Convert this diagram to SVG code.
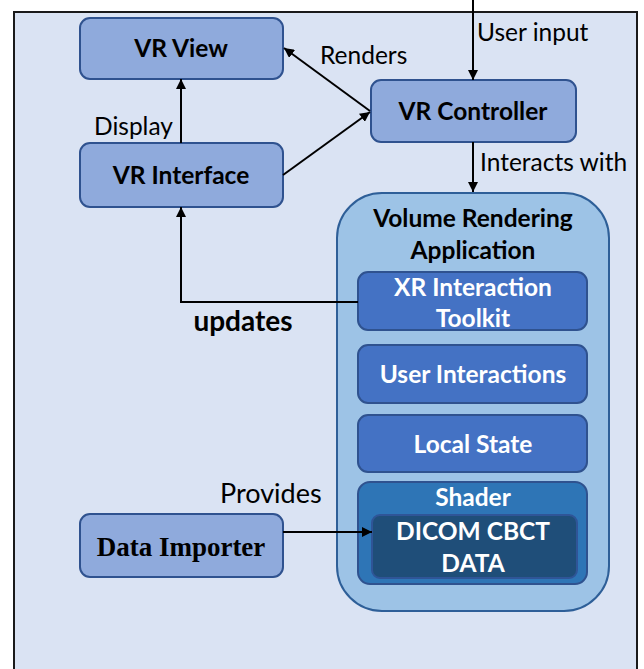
<svg xmlns="http://www.w3.org/2000/svg" width="644" height="669" viewBox="0 0 644 669">
<defs>
<marker id="arr" viewBox="0 0 10 10" refX="10" refY="5" markerWidth="10" markerHeight="10" markerUnits="userSpaceOnUse" orient="auto">
<path d="M0,0 L10,5 L0,10 z" fill="#000"/>
</marker>
<style>
.bg{fill:#dae3f3;stroke:#1a1a1a;stroke-width:2}
.box{fill:#8faadc;stroke:#2f528f;stroke-width:2}
.cont{fill:#9dc3e6;stroke:#2e5f98;stroke-width:2}
.inner{fill:#4472c4;stroke:#2f528f;stroke-width:2}
.shader{fill:#2e75b6;stroke:#2f528f;stroke-width:2}
.dicom{fill:#1f4e79;stroke:#2f5597;stroke-width:2}
.t{font-family:Lato,"Open Sans",sans-serif;font-weight:bold;font-size:24.5px;fill:#000;text-anchor:middle}
.w{font-family:Lato,"Open Sans",sans-serif;font-weight:bold;font-size:24.5px;fill:#fff;text-anchor:middle}
.l{font-family:Lato,"Open Sans",sans-serif;font-size:24.5px;fill:#000}
.serif{font-family:"Liberation Serif",serif;font-weight:bold;font-size:27px;fill:#000;text-anchor:middle}
.c{fill:none;stroke:#000;stroke-width:2}
</style>
</defs>
<rect class="bg" x="14" y="12" width="623" height="680"/>
<g id="vr-view">
<rect class="box" x="80" y="18" width="203" height="61" rx="10"/>
<text class="t" x="181" y="57">VR View</text>
</g>
<g id="vr-controller">
<rect class="box" x="371" y="80" width="205" height="62" rx="10"/>
<text class="t" x="473" y="120">VR Controller</text>
</g>
<g id="vr-interface">
<rect class="box" x="80" y="143" width="203" height="64" rx="10"/>
<text class="t" x="181" y="184">VR Interface</text>
</g>
<g id="volume-rendering-application">
<rect class="cont" x="337" y="193" width="272" height="418" rx="45"/>
<text class="t" x="473" y="227">Volume Rendering</text>
<text class="t" x="473" y="259">Application</text>
</g>
<g id="xr-interaction-toolkit">
<rect class="inner" x="358" y="272" width="229" height="58" rx="10"/>
<text class="w" x="473" y="296">XR Interaction</text>
<text class="w" x="473" y="327">Toolkit</text>
</g>
<g id="user-interactions">
<rect class="inner" x="358" y="345" width="229" height="58" rx="10"/>
<text class="w" x="473" y="383">User Interactions</text>
</g>
<g id="local-state">
<rect class="inner" x="358" y="415" width="229" height="57" rx="10"/>
<text class="w" x="473" y="453">Local State</text>
</g>
<g id="shader">
<rect class="shader" x="358" y="482" width="229" height="102" rx="12"/>
<text class="w" x="473" y="506">Shader</text>
</g>
<g id="dicom-cbct-data">
<rect class="dicom" x="372" y="515" width="205" height="63" rx="8"/>
<text class="w" x="473" y="540">DICOM CBCT</text>
<text class="w" x="473" y="572">DATA</text>
</g>
<g id="data-importer">
<rect class="box" x="80" y="514" width="203" height="63" rx="10"/>
<text class="serif" x="181" y="556">Data Importer</text>
</g>
<g id="connectors">
<line class="c" x1="473" y1="0" x2="473" y2="80" marker-end="url(#arr)"/>
<line class="c" x1="370" y1="111" x2="284" y2="48" marker-end="url(#arr)"/>
<line class="c" x1="283" y1="175" x2="370" y2="112" marker-end="url(#arr)"/>
<line class="c" x1="181" y1="143" x2="181" y2="79" marker-end="url(#arr)"/>
<line class="c" x1="473" y1="142" x2="473" y2="192" marker-end="url(#arr)"/>
<polyline class="c" points="358,302 181,302 181,207" marker-end="url(#arr)"/>
<line class="c" x1="283" y1="532" x2="372" y2="532" marker-end="url(#arr)"/>
<text class="l" x="320" y="64">Renders</text>
<text class="l" x="94" y="135">Display</text>
<text class="l" x="477" y="41">User input</text>
<text class="l" x="480" y="171">Interacts with</text>
<text class="t" x="243" y="331" style="font-size:28px">updates</text>
<text class="l" x="220" y="503" style="font-size:27px">Provides</text>
</g>
</svg>
